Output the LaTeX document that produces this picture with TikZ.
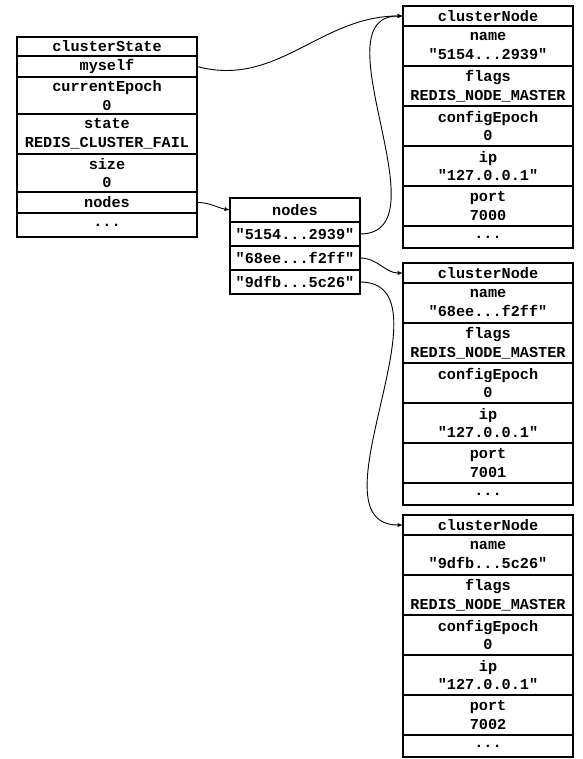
\documentclass[tikz,border=0pt]{standalone}
\usepackage{fontspec}
\newfontfamily\codefont{Liberation Mono}
\usetikzlibrary{positioning}
\tikzset{
  cell/.style={draw, line width=1.1pt, inner sep=0pt, outer sep=0pt, align=center,
    font=\codefont\bfseries\fontsize{15.2}{18.5}\selectfont},
  csrow/.style={cell, minimum width=180pt},
  ndrow/.style={cell, minimum width=130pt, minimum height=24pt},
  cnrow/.style={cell, minimum width=170pt},
  link/.style={line width=0.9pt, -latex}
}
\begin{document}
\begin{tikzpicture}[x=1pt, y=-1pt]
\useasboundingbox (0,0) rectangle (582,759);

% clusterState
\node[csrow, minimum height=19pt, anchor=north] (cs-head) at (107,37) {clusterState};
\node[csrow, minimum height=21pt, below=0pt of cs-head] (cs-myself) {myself};
\node[csrow, minimum height=37pt, below=0pt of cs-myself] (cs-epoch) {currentEpoch\\0};
\node[csrow, minimum height=40pt, below=0pt of cs-epoch] (cs-state) {state\\REDIS\_CLUSTER\_FAIL};
\node[csrow, minimum height=38pt, below=0pt of cs-state] (cs-size) {size\\0};
\node[csrow, minimum height=21pt, below=0pt of cs-size] (cs-nodes) {nodes};
\node[csrow, minimum height=24pt, below=0pt of cs-nodes] (cs-more) {...};

% nodes dict
\node[ndrow, anchor=north] (nd-head) at (295,198) {nodes};
\node[ndrow, below=0pt of nd-head] (nd-a) {"5154...2939"};
\node[ndrow, below=0pt of nd-a] (nd-b) {"68ee...f2ff"};
\node[ndrow, below=0pt of nd-b] (nd-c) {"9dfb...5c26"};

% clusterNode 7000
\node[cnrow, minimum height=20pt, anchor=north] (cn1-head) at (488,6) {clusterNode};
\node[cnrow, minimum height=40pt, below=0pt of cn1-head] (cn1-name) {name\\"5154...2939"};
\node[cnrow, minimum height=40pt, below=0pt of cn1-name] (cn1-flags) {flags\\REDIS\_NODE\_MASTER};
\node[cnrow, minimum height=40pt, below=0pt of cn1-flags] (cn1-epoch) {configEpoch\\0};
\node[cnrow, minimum height=40pt, below=0pt of cn1-epoch] (cn1-ip) {ip\\"127.0.0.1"};
\node[cnrow, minimum height=40pt, below=0pt of cn1-ip] (cn1-port) {port\\7000};
\node[cnrow, minimum height=22pt, below=0pt of cn1-port] (cn1-more) {...};

% clusterNode 7001
\node[cnrow, minimum height=20pt, anchor=north] (cn2-head) at (488,263) {clusterNode};
\node[cnrow, minimum height=40pt, below=0pt of cn2-head] (cn2-name) {name\\"68ee...f2ff"};
\node[cnrow, minimum height=40pt, below=0pt of cn2-name] (cn2-flags) {flags\\REDIS\_NODE\_MASTER};
\node[cnrow, minimum height=40pt, below=0pt of cn2-flags] (cn2-epoch) {configEpoch\\0};
\node[cnrow, minimum height=40pt, below=0pt of cn2-epoch] (cn2-ip) {ip\\"127.0.0.1"};
\node[cnrow, minimum height=40pt, below=0pt of cn2-ip] (cn2-port) {port\\7001};
\node[cnrow, minimum height=22pt, below=0pt of cn2-port] (cn2-more) {...};

% clusterNode 7002
\node[cnrow, minimum height=20pt, anchor=north] (cn3-head) at (488,515) {clusterNode};
\node[cnrow, minimum height=40pt, below=0pt of cn3-head] (cn3-name) {name\\"9dfb...5c26"};
\node[cnrow, minimum height=40pt, below=0pt of cn3-name] (cn3-flags) {flags\\REDIS\_NODE\_MASTER};
\node[cnrow, minimum height=40pt, below=0pt of cn3-flags] (cn3-epoch) {configEpoch\\0};
\node[cnrow, minimum height=40pt, below=0pt of cn3-epoch] (cn3-ip) {ip\\"127.0.0.1"};
\node[cnrow, minimum height=40pt, below=0pt of cn3-ip] (cn3-port) {port\\7002};
\node[cnrow, minimum height=22pt, below=0pt of cn3-port] (cn3-more) {...};

% pointers
\draw[link] (cs-myself.east) to[out=-15, in=180] (cn1-head.west);
\draw[link] (cs-nodes.east) to[out=0, in=170] (nd-head.west);
\draw[link] (nd-a.east) to[out=0, in=180] (cn1-head.west);
\draw[link] (nd-b.east) to[out=0, in=180] (cn2-head.west);
\draw[link] (nd-c.east) to[out=0, in=180] (cn3-head.west);

\end{tikzpicture}
\end{document}
